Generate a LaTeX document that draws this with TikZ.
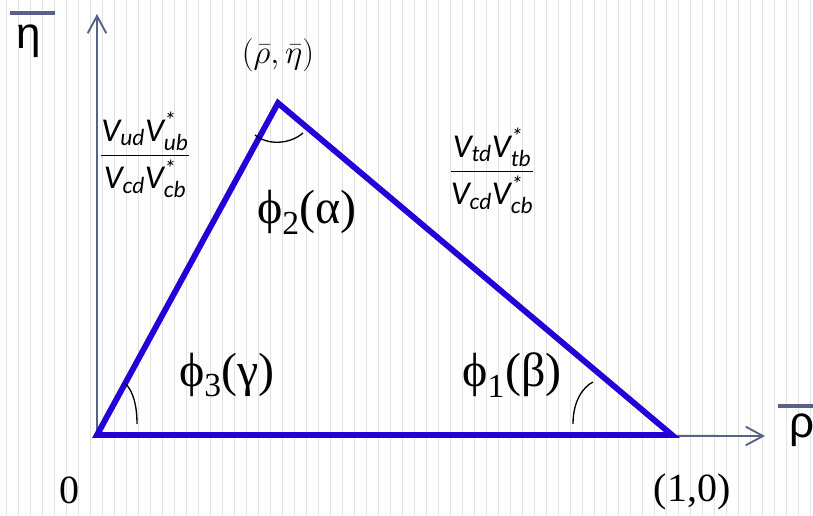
\documentclass[tikz,border=0pt]{standalone}
\usepackage{amsmath}
\usepackage{fontspec}
\setmainfont{Liberation Serif}
\newfontfamily\sansgreek{Liberation Sans}
\newfontfamily\calfont{Carlito}
\usetikzlibrary{arrows.meta}
\definecolor{triblue}{RGB}{35,0,215}
\definecolor{axisgray}{RGB}{88,98,135}
\definecolor{gridgray}{RGB}{226,226,226}
\newcommand{\cv}[1]{\text{\calfont\itshape #1}}

\begin{document}
\begin{tikzpicture}[x=0.75pt, y=0.75pt,
    gridline/.style={gridgray, line width=1.1pt},
    axis/.style={axisgray, line width=1.4pt, -{Straight Barb[length=13pt,width=14pt,line width=1.4pt]}},
    bar/.style={axisgray, line width=2.4pt},
    side/.style={triblue, line width=4.4pt},
    arcline/.style={black, line width=1pt},
    axislbl/.style={font=\sansgreek\fontsize{33}{35}\selectfont, inner sep=0pt, anchor=base},
    anglelbl/.style={font=\fontsize{36}{38}\selectfont, inner sep=0pt},
    numlbl/.style={font=\fontsize{30}{32}\selectfont, inner sep=0pt},
    ratio/.style={font=\fontsize{25}{27}\selectfont, inner sep=0pt}]
    \useasboundingbox (-97,-80) rectangle (716,435);
    % background grid
    \foreach \gx in {0,...,67}
        \draw[gridline] (-90.3+12*\gx,-80) -- (-90.3+12*\gx,435);

    \coordinate (O) at (0,0);
    \coordinate (B) at (575,0);
    \coordinate (A) at (181,332);
    \coordinate (ytop) at (0,421);
    \coordinate (xend) at (668,-1);

    \draw[axis] (O) -- (ytop);
    \draw[axis] (O) -- (xend);
    \draw[side] (O) -- (A) -- (B) -- cycle;

    % angle marks
    \draw[arcline] (158,300) .. controls (170,290) and (192,290) .. (206,302);
    \draw[arcline] (28,52) .. controls (36,44) and (40,30) .. (40,11);
    \draw[arcline] (496,53) .. controls (486,48) and (476,34) .. (476,11);

    \node[axislbl] (etalbl) at (-68,386) {η};
    \draw[bar] (-87,422) -- (-42,422);
    \node[axislbl] (rholbl) at (705,-2) {ρ};
    \draw[bar] (681,29) -- (725,29);

    \node[ratio] (apex) at (181,380) {$(\bar{\rho},\bar{\eta})$};
    \node[ratio] (leftratio) at (48,280)
        {$\dfrac{\cv{V}_{\cv{ud}}\cv{V}^{\cv{*}}_{\cv{ub}}}{\cv{V}_{\cv{cd}}\cv{V}^{\cv{*}}_{\cv{cb}}}$};
    \node[ratio] (rightratio) at (395,264)
        {$\dfrac{\cv{V}_{\cv{td}}\cv{V}^{\cv{*}}_{\cv{tb}}}{\cv{V}_{\cv{cd}}\cv{V}^{\cv{*}}_{\cv{cb}}}$};

    \node[anglelbl] (alpha) at (210,223) {ϕ\textsubscript{2}(α)};
    \node[anglelbl] (gamma) at (130,60) {ϕ\textsubscript{3}(γ)};
    \node[anglelbl] (beta) at (415,60) {ϕ\textsubscript{1}(β)};

    \node[numlbl] (zero) at (-27,-55) {0};
    \node[numlbl] (one) at (595,-57) {(1,0)};
\end{tikzpicture}
\end{document}
